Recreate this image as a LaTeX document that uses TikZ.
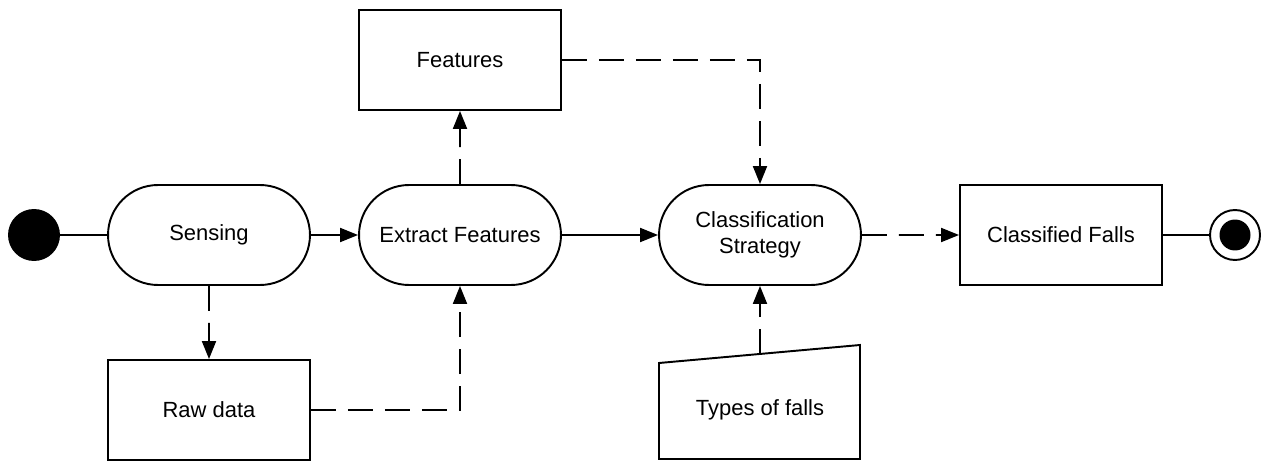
\documentclass[tikz,border=0pt]{standalone}
\usepackage{fontspec}
\setmainfont{Liberation Sans}
\usetikzlibrary{arrows.meta,shapes.misc}
\begin{document}
\begin{tikzpicture}[x=0.02cm,y=-0.02cm,
  every node/.style={font=\fontsize{12.5}{15}\selectfont},
  ln/.style={line width=1.1pt},
  act/.style={rounded rectangle,draw,ln,minimum width=4.04cm,minimum height=2cm,inner sep=0pt,align=center},
  obj/.style={rectangle,draw,ln,minimum width=4.04cm,minimum height=2cm,inner sep=0pt,align=center},
  flow/.style={ln,-{Triangle[length=0.36cm,width=0.28cm]}},
  dflow/.style={flow,dash pattern=on 0.5cm off 0.24cm},
  plain/.style={ln}]
\useasboundingbox (0,0) rectangle (1264,466);
\node[circle,fill=black,minimum size=1.04cm,inner sep=0pt] (start) at (34,235) {};
\node[act] (sensing) at (209,235) {Sensing};
\node[act] (extract) at (460,235) {Extract Features};
\node[obj] (features) at (460,60) {Features};
\node[obj] (raw) at (209,410) {Raw data};
\node[act] (classif) at (760,235) {Classification\\Strategy};
\node[obj] (classified) at (1061,235) {Classified Falls};
\node[circle,draw,ln,minimum size=1.0cm,inner sep=0pt] (end) at (1235,235) {};
\node[circle,fill=black,minimum size=0.62cm,inner sep=0pt] (endin) at (1235,235) {};
\draw[ln] (659,363) -- (860,345) -- (860,459) -- (659,459) -- cycle;
\node[minimum width=4cm,minimum height=1.8cm,inner sep=0pt] (types) at (760,410) {Types of falls};
\coordinate (typestop) at (760,354);
\draw[plain] (start) -- (sensing);
\draw[flow] (sensing) -- (extract);
\draw[dflow] (extract) -- (features);
\draw[flow] (extract) -- (classif);
\draw[dflow] (features.east) -| (classif.north);
\draw[dflow] (sensing) -- (raw);
\draw[dflow] (raw.east) -| (extract.south);
\draw[dflow] (typestop) -- (classif.south);
\draw[dflow] (classif) -- (classified);
\draw[plain] (classified) -- (end);
\end{tikzpicture}
\end{document}
